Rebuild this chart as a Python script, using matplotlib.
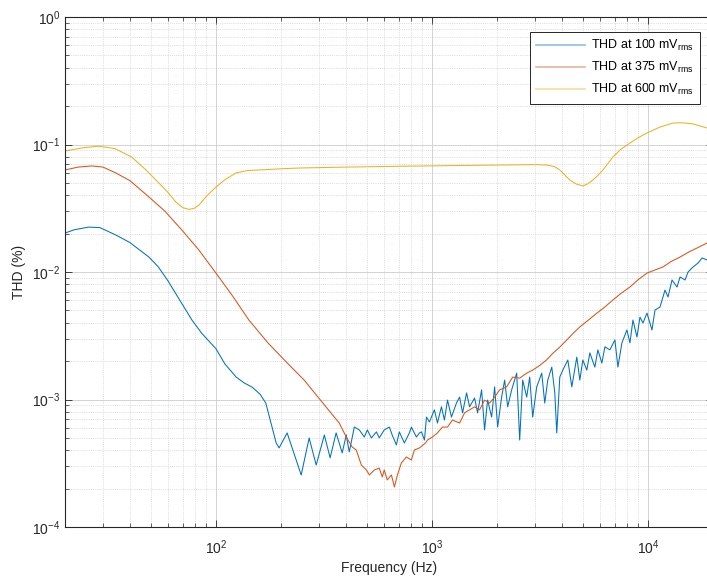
import numpy as np
import matplotlib
matplotlib.use('Agg')
import matplotlib.pyplot as plt

# ====================== 数据 ======================
# THD at 100 mVrms (blue)
blue_f = [20, 22, 25.7, 29, 34.4, 40, 48.9, 54, 60, 68,
          77.4, 86, 100, 110, 124, 135, 147, 160, 170, 190,
          196, 213.5, 248, 270, 291, 317.5, 337.6, 360, 384, 401,
          414, 437, 461, 486, 502, 524, 553, 570, 601, 635,
          656, 670, 684, 706, 745, 786, 803, 847, 875, 894,
          923, 943, 973, 1026, 1060, 1106,
          1142, 1180, 1231, 1298, 1342, 1386, 1446, 1493, 1575, 1626,
          1697, 1752, 1809, 1889, 1950, 2014, 2101, 2170, 2241, 2338,
          2467, 2547, 2630, 2745, 2834, 2926, 3054, 3222, 3327, 3436,
          3586, 3703, 3782, 3906, 4033, 4255, 4440, 4683, 4836, 4994,
          5211, 5381, 5676, 5862, 6117, 6317, 6663, 7029, 7258, 7574,
          7989, 8250, 8519, 8890, 9180, 9479, 9892, 10436, 10776, 11367,
          11991, 12382, 12921, 13630, 14074, 14847, 15331, 16170, 17058, 17802,
          18780, 20000]
blue_v = [0.0202, 0.0214, 0.0225, 0.0223, 0.0195, 0.0170, 0.0131, 0.0110, 0.0085, 0.0060,
          0.0042, 0.0033, 0.0025, 0.0019, 0.0015, 0.00135, 0.00125, 0.0011, 0.00094, 0.000456,
          0.000417, 0.000547, 0.000256, 0.000499, 0.000306, 0.000527, 0.000349, 0.000547, 0.000381, 0.000527,
          0.000388, 0.000608, 0.000577, 0.000508, 0.000577, 0.000499, 0.000557, 0.000500, 0.000577, 0.000608,
          0.000520, 0.000481, 0.00044, 0.000557, 0.000456, 0.000547, 0.000608, 0.000508, 0.000547, 0.000557,
          0.000481, 0.000728, 0.000666, 0.00083, 0.000654, 0.000876,
          0.00069, 0.00099, 0.000728, 0.000938, 0.001045, 0.000786, 0.001127, 0.000876, 0.001026, 0.000786,
          0.00119, 0.000577, 0.00099, 0.000728, 0.001256, 0.000608, 0.001045, 0.00142, 0.000876, 0.00119,
          0.00161, 0.000481, 0.00142, 0.001045, 0.0015, 0.000728, 0.001256, 0.00161, 0.000938, 0.00142,
          0.001795, 0.001127, 0.000547, 0.0015, 0.0017, 0.00204, 0.001256, 0.00215, 0.00142, 0.00204,
          0.0017, 0.00232, 0.001795, 0.00245, 0.00193, 0.00259, 0.00245, 0.00293, 0.001795, 0.00278,
          0.00351, 0.00278, 0.0042, 0.00309, 0.00443, 0.00398, 0.00476, 0.00351, 0.00503, 0.00531,
          0.00722, 0.00637, 0.00866, 0.00762, 0.00914, 0.00866, 0.0100, 0.01095, 0.01177, 0.01288,
          0.01242, 0.0135]

# THD at 375 mVrms (red)
red_f = [20, 23, 26.6, 30, 34.4, 40, 48.9, 58, 69.5, 83,
         100, 120, 142, 175, 218, 256, 324, 372, 401, 427,
         446, 471, 497, 513, 541, 570, 589, 601, 621, 649,
         670, 692, 721, 761, 803, 829, 875, 933, 953, 1005,
         1060, 1118, 1180, 1244, 1342, 1416, 1493, 1575, 1661, 1752,
         1849, 1950, 2057, 2217, 2364, 2547, 2745, 2926, 3154, 3399,
         3624, 3900, 4209, 4500, 4836, 5300, 5799, 6300, 6880, 7500,
         8250, 9000, 9892, 10800, 11737, 12800, 14074, 15400, 16875, 18780,
         20000]
red_v = [0.0631, 0.0665, 0.0679, 0.0665, 0.0598, 0.052, 0.0388, 0.03, 0.02135, 0.015,
         0.0098, 0.0064, 0.0042, 0.00275, 0.00187, 0.00142, 0.00087, 0.000654, 0.000508, 0.000424,
         0.000402, 0.000306, 0.00028, 0.000256, 0.00028, 0.00029, 0.000247, 0.00028, 0.000234, 0.000256,
         0.000206, 0.000256, 0.000317, 0.000354, 0.000335, 0.000402, 0.000417, 0.000456, 0.000481, 0.000508,
         0.000547, 0.000608, 0.000608, 0.00069, 0.000654, 0.000786, 0.00083, 0.000876, 0.00083, 0.00099,
         0.000938, 0.001045, 0.00119, 0.001256, 0.0015, 0.00147, 0.00161, 0.0017, 0.00185, 0.00205,
         0.0023, 0.00257, 0.00293, 0.0033, 0.00371, 0.0042, 0.00476, 0.0053, 0.00603, 0.0068,
         0.00762, 0.0087, 0.0098, 0.0104, 0.01095, 0.0121, 0.0131, 0.0143, 0.01543, 0.01689,
         0.0172]

# THD at 600 mVrms (orange)
org_f = [20, 24, 28.6, 34, 40.7, 47, 54.4, 60, 65.2, 70,
         75, 79, 83.4, 90, 100, 110, 124, 140, 158, 200,
         243, 400, 700, 1000, 2000, 3000, 3399, 3700, 3906, 4150,
         4346, 4650, 4994, 5250, 5556, 5850, 6183, 6880, 7500, 8250,
         9000, 9892, 11367, 13060, 14500, 16170, 18780, 20000]
org_v = [0.089, 0.094, 0.097, 0.093, 0.0798, 0.064, 0.0499, 0.042, 0.0354, 0.032,
         0.031, 0.0315, 0.0335, 0.039, 0.0464, 0.053, 0.0599, 0.0625, 0.0631, 0.0645,
         0.0654, 0.0665, 0.0675, 0.068, 0.069, 0.0695, 0.069, 0.067, 0.0631, 0.057,
         0.0527, 0.049, 0.0473, 0.049, 0.0527, 0.057, 0.0631, 0.0798, 0.092, 0.1027,
         0.113, 0.123, 0.137, 0.1475, 0.148, 0.145, 0.1346, 0.13]

series_labels = ['THD at 100 mV$_{\\mathregular{rms}}$',
                 'THD at 375 mV$_{\\mathregular{rms}}$',
                 'THD at 600 mV$_{\\mathregular{rms}}$']
series_colors = ['#0072BD', '#D95319', '#EDB120']

# ====================== 绘图 ======================
plt.rcParams['font.family'] = ['Liberation Sans', 'DejaVu Sans']
plt.rcParams['mathtext.fontset'] = 'custom'
plt.rcParams['mathtext.rm'] = 'Liberation Sans'

fig = plt.figure(figsize=(7.07, 5.81), dpi=100)
ax = fig.add_axes([65 / 707, 54 / 581, 648 / 707, 510 / 581])

for f, v, lab, col in zip([blue_f, red_f, org_f], [blue_v, red_v, org_v],
                          series_labels, series_colors):
    ax.plot(f, v, color=col, lw=0.75, label=lab)

ax.set_xscale('log')
ax.set_yscale('log')
ax.set_xlim(20, 20000)
ax.set_ylim(1e-4, 1)

# MATLAB风格网格和刻度
ax.grid(True, which='major', color='#cccccc', lw=0.6, ls='-')
ax.grid(True, which='minor', color='#c4c4c4', lw=0.5, ls=':')
ax.tick_params(which='both', direction='in', top=True, right=True,
               colors='#262626', labelsize=10)
ax.tick_params(which='major', length=5, width=0.6)
ax.tick_params(which='minor', length=3, width=0.5)
ax.tick_params(axis='x', which='major', pad=8)
for sp in ax.spines.values():
    sp.set_color('#262626')
    sp.set_linewidth(0.8)

ax.set_xlabel('Frequency (Hz)', fontsize=10, color='#262626', labelpad=3)
ax.set_ylabel('THD (%)', fontsize=10, color='#262626', labelpad=4)

leg = ax.legend(loc='upper right', bbox_to_anchor=(700 / 707, 1 - 32 / 581),
                bbox_transform=fig.transFigure, borderaxespad=0,
                fancybox=False, framealpha=1, edgecolor='#262626',
                fontsize=9, handlelength=3.9, handletextpad=0.5,
                labelspacing=0.55, borderpad=0.5)
leg.get_frame().set_linewidth(0.7)
# 图例线条颜色较淡
for line in leg.get_lines():
    line.set_linewidth(1.2)
    line.set_alpha(0.45)

fig.savefig('out.png', dpi=100)
